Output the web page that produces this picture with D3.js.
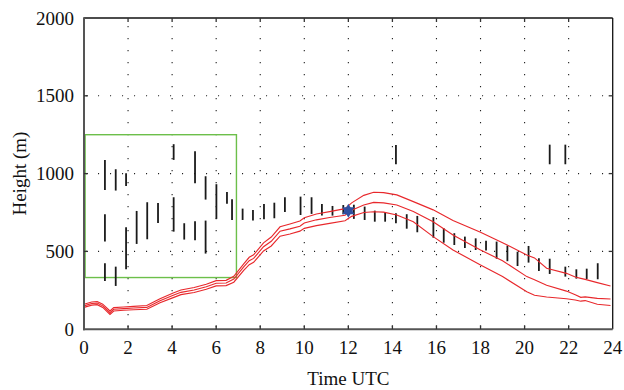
<!DOCTYPE html>
<html><head><meta charset="utf-8">
<script src="https://cdn.jsdelivr.net/npm/d3@7"></script>
<style>html,body{margin:0;padding:0;background:#fff;} svg{display:block;} text{font-family:"Liberation Serif","DejaVu Serif",serif;}</style>
</head><body>
<svg id="chart" width="624" height="390"></svg>
<script>
// ---- data ----
const xTicks = [0,2,4,6,8,10,12,14,16,18,20,22,24];
const yTicks = [0,500,1000,1500,2000];
const lineTime  = [0,0.35,0.6,0.85,1.18,1.35,1.8,2.25,2.85,3.45,4.05,4.4,5.0,5.55,6.0,6.45,6.8,7.25,7.5,7.7,8.15,8.5,8.9,9.35,9.8,10.0,10.55,11.15,11.85,12.15,12.7,13.15,13.6,14.2,14.95,15.85,16.75,18.0,19.0,20.1,20.45,21.0,21.9,22.3,22.55,22.75,23.3,23.9];
const lineLower = [140,155,158,140,95,117,122,125,128,170,203,222,236,257,278,280,302,378,415,430,503,535,598,612,630,648,666,680,697,725,750,755,752,734,691,595,509,413,338,241,218,207,196,188,180,184,160,152];
const lineMid   = [150,165,168,150,106,128,132,136,140,183,218,237,252,273,295,297,322,400,440,455,530,565,630,645,662,683,703,718,732,765,798,815,812,798,756,690,605,509,440,338,318,282,245,222,205,208,198,194];
const lineUpper = [160,175,178,161,117,139,143,147,152,196,233,252,268,289,312,314,340,420,462,478,555,592,658,676,695,716,740,756,775,812,860,880,878,863,820,767,698,623,556,477,458,392,359,335,327,320,299,278];
const barTime = [0.95,0.95,0.95,1.44,1.44,1.91,1.91,2.39,2.87,3.36,4.07,4.07,4.55,5.04,5.04,5.52,5.52,6.01,6.49,6.72,7.2,7.67,8.17,8.64,9.12,9.83,10.33,10.8,11.28,11.77,12.25,12.74,13.2,13.67,14.16,14.16,14.65,15.13,15.86,16.33,16.81,17.29,17.78,18.25,18.73,19.22,19.68,20.18,20.65,21.14,21.14,21.85,21.85,22.35,22.82,23.32];
const barLow  = [895,563,310,891,278,921,385,548,578,683,1088,627,576,938,572,833,486,709,807,702,702,698,707,713,754,734,741,730,730,739,709,702,691,691,681,1060,646,623,588,556,541,522,509,505,453,437,406,428,374,355,1060,338,1060,325,323,321];
const barHigh = [1088,739,424,1028,402,1002,655,760,816,811,1189,848,681,1144,694,983,698,932,882,835,775,766,805,813,848,852,848,805,792,798,800,788,762,752,745,1184,739,728,720,649,617,595,584,569,563,537,498,535,456,453,1186,402,1186,385,389,424];
const starPoint = [12.0, 762];
const boxX = [0.05, 6.92];
const boxY = [332, 1250];

// ---- layout ----
const svg = d3.select("#chart");
const L = 84, R = 612.7, T = 18, B = 329.2;
const x = d3.scaleLinear().domain([0,24]).range([L,R]);
const y = d3.scaleLinear().domain([0,2000]).range([B,T]);

// grid (dotted)
const grid = svg.append("g");
xTicks.filter(d => d>0 && d<24).forEach(d => {
  grid.append("line").attr("x1",x(d)).attr("x2",x(d)).attr("y1",B-2).attr("y2",T+2)
    .attr("stroke","#222").attr("stroke-width",1.1).attr("stroke-dasharray","1.1,10.9");
});
yTicks.filter(d => d>0 && d<2000).forEach(d => {
  grid.append("line").attr("x1",L+2).attr("x2",R-2).attr("y1",y(d)).attr("y2",y(d))
    .attr("stroke","#222").attr("stroke-width",1.1).attr("stroke-dasharray","1.1,10.9");
});

// green box
svg.append("rect").attr("x",x(boxX[0])).attr("y",y(boxY[1]))
  .attr("width",x(boxX[1])-x(boxX[0])).attr("height",y(boxY[0])-y(boxY[1]))
  .attr("fill","none").attr("stroke","#6cbf4a").attr("stroke-width",1.4);

// bars
const bars = barTime.map((t,i)=>({t, lo:barLow[i], hi:barHigh[i]}));
svg.append("g").selectAll("line").data(bars).join("line")
  .attr("x1",d=>x(d.t)).attr("x2",d=>x(d.t)).attr("y1",d=>y(d.lo)).attr("y2",d=>y(d.hi))
  .attr("stroke","#1a1a1a").attr("stroke-width",1.8);

// red lines
const line = d3.line().x(d=>x(d[0])).y(d=>y(d[1]));
[lineLower, lineMid, lineUpper].forEach(arr => {
  svg.append("path").datum(lineTime.map((t,i)=>[t,arr[i]])).attr("d",line)
    .attr("fill","none").attr("stroke","#e8282c").attr("stroke-width",1.15);
});

// star (hexagram)
const sx = x(starPoint[0]), sy = y(starPoint[1]), r = 7;
const tri = k => d3.range(3).map(j => {
  const a = (k*60 + j*120 - 90) * Math.PI/180;
  return [sx + r*Math.cos(a), sy + r*Math.sin(a)];
});
[tri(0), tri(1)].forEach(p => {
  svg.append("path").attr("d","M"+p.map(q=>q.join(",")).join("L")+"Z").attr("fill","#2f4f9f");
});

// axes frame
const ax = svg.append("g");
ax.append("line").attr("x1",L).attr("x2",R).attr("y1",T).attr("y2",T).attr("stroke","#111").attr("stroke-width",1.3);
ax.append("line").attr("x1",R).attr("x2",R).attr("y1",T).attr("y2",B).attr("stroke","#111").attr("stroke-width",1.3);
ax.append("line").attr("x1",L).attr("x2",L).attr("y1",T-0.7).attr("y2",B+1).attr("stroke","#555").attr("stroke-width",2);
ax.append("line").attr("x1",L-1).attr("x2",R).attr("y1",B).attr("y2",B).attr("stroke","#555").attr("stroke-width",2);

// inward ticks
const tl = 4;
xTicks.filter(d=>d>0&&d<24).forEach(d=>{
  ax.append("line").attr("x1",x(d)).attr("x2",x(d)).attr("y1",B).attr("y2",B-tl).attr("stroke","#333").attr("stroke-width",1.3);
  ax.append("line").attr("x1",x(d)).attr("x2",x(d)).attr("y1",T).attr("y2",T+tl).attr("stroke","#333").attr("stroke-width",1.3);
});
yTicks.filter(d=>d>0&&d<2000).forEach(d=>{
  ax.append("line").attr("x1",L).attr("x2",L+tl).attr("y1",y(d)).attr("y2",y(d)).attr("stroke","#333").attr("stroke-width",1.3);
  ax.append("line").attr("x1",R).attr("x2",R-tl).attr("y1",y(d)).attr("y2",y(d)).attr("stroke","#333").attr("stroke-width",1.3);
});

// tick labels
svg.append("g").selectAll("text").data(xTicks).join("text")
  .attr("x",d=>x(d)).attr("y",354).attr("text-anchor","middle")
  .attr("font-size",19).attr("fill","#111").text(d=>d);
svg.append("g").selectAll("text").data(yTicks).join("text")
  .attr("x",74).attr("y",d=>y(d)+6.5).attr("text-anchor","end")
  .attr("font-size",19).attr("fill","#111").text(d=>d);

// axis titles
svg.append("text").attr("x",(L+R)/2).attr("y",385).attr("text-anchor","middle")
  .attr("font-size",19).attr("fill","#111").text("Time UTC");
svg.append("text").attr("transform",`translate(26,${(T+B)/2}) rotate(-90)`).attr("text-anchor","middle")
  .attr("font-size",19).attr("fill","#111").text("Height (m)");
</script>
</body></html>
